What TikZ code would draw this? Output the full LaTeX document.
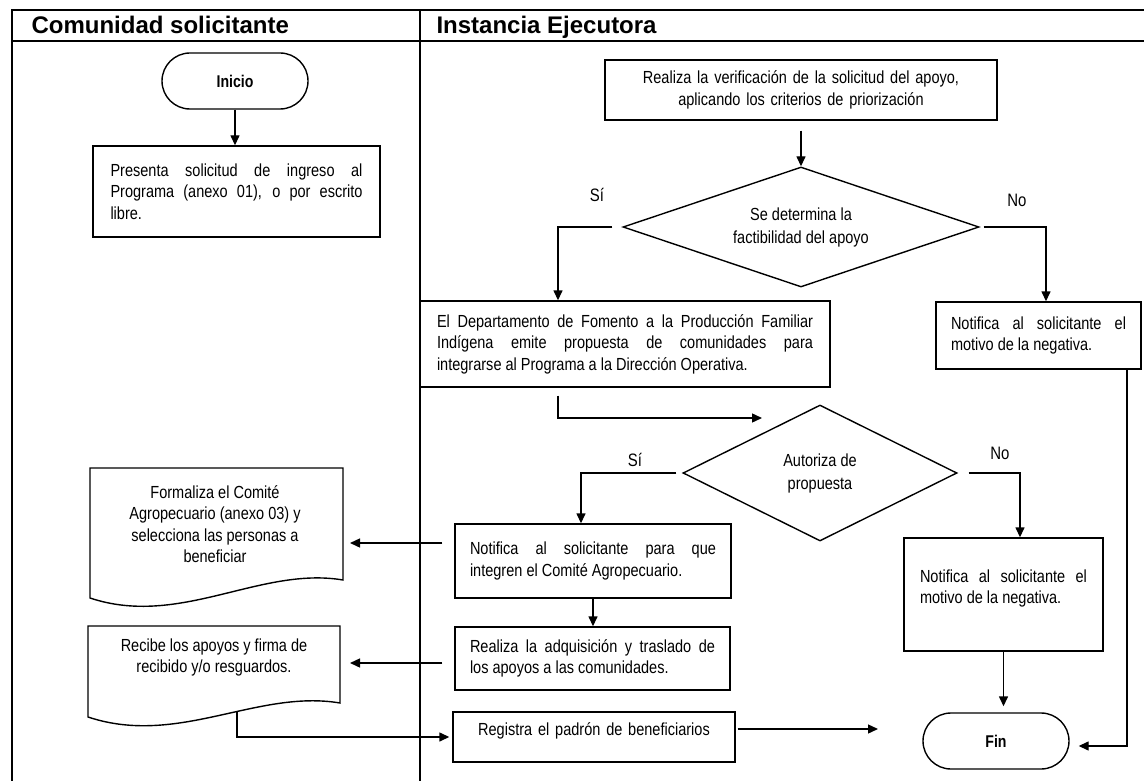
\documentclass[tikz,border=0pt]{standalone}
\usepackage{fontspec}
\setmainfont{Liberation Sans}[FakeStretch=0.83]
\newfontfamily\titlefont{Liberation Sans}
\usepackage{tikz}
\usetikzlibrary{arrows.meta,positioning,shapes.geometric,calc}
\hyphenpenalty=10000
\exhyphenpenalty=10000

\begin{document}
\begin{tikzpicture}[x=1pt, y=-1pt,
    box/.style={draw, line width=1.4pt, inner sep=0pt, font=\fontsize{17.5}{21.5}\selectfont},
    jbox/.style={box, align=justify},
    cbox/.style={box, align=center},
    term/.style={draw, line width=1.4pt, rounded corners=28pt, minimum width=146pt, minimum height=56pt, font=\bfseries\fontsize{17}{20}\selectfont},
    decision/.style={draw, diamond, aspect=3, line width=1.4pt, inner sep=0pt, align=center, font=\fontsize{17.5}{23}\selectfont},
    doc/.style={inner sep=0pt, align=center, font=\fontsize{17.5}{21.5}\selectfont},
    lbl/.style={font=\fontsize{18}{20}\selectfont},
    arr/.style={line width=1.4pt, -{Triangle[length=10pt,width=9pt]}},
    lane/.style={line width=1.6pt},
    lanetitle/.style={anchor=base west, font=\titlefont\bfseries\fontsize{24}{28}\selectfont}]
  \useasboundingbox (0,0) rectangle (1144,781);

  % Swimlanes
  \draw[lane] (12,781) -- (12,10) -- (1144,10);
  \draw[lane] (12,41) -- (1144,41);
  \draw[lane] (420,10) -- (420,781);
  \node[lanetitle] (titlecom) at (28,34) {Comunidad solicitante};
  \node[lanetitle] (titleinst) at (433,34) {Instancia Ejecutora};

  % Left lane - Comunidad solicitante
  \node[term] (inicio) at (235,81) {Inicio};
  \node[jbox, text width=252pt, minimum width=287pt, minimum height=91pt] (presenta) at (236.5,191.5)
    {Presenta solicitud de ingreso al\linebreak Programa (anexo 01), o por escrito\linebreak libre.};

  % Document shapes
  \node[doc] (formaliza) at (215,524)
    {Formaliza el Comité\\ Agropecuario (anexo 03) y\\ selecciona las personas a\\ beneficiar};
  \draw[line width=1.4pt] ($(formaliza)+(-125,-56)$) -- ($(formaliza)+(128,-56)$) -- ($(formaliza)+(128,56)$)
    .. controls ($(formaliza)+(45,42)$) and ($(formaliza)+(-35,104)$) .. ($(formaliza)+(-125,74)$) -- cycle;
  \coordinate (formalizaE) at ($(formaliza)+(135,0)$);

  \node[doc] (recibe) at (214,657.5)
    {Recibe los apoyos y firma de\\ recibido y/o resguardos.};
  \draw[line width=1.4pt] ($(recibe)+(-126,-31.5)$) -- ($(recibe)+(126,-31.5)$) -- ($(recibe)+(126,45.5)$)
    .. controls ($(recibe)+(43,31.5)$) and ($(recibe)+(-36,89.5)$) .. ($(recibe)+(-126,59.5)$) -- cycle;
  \coordinate (recibeE) at ($(recibe)+(136,0)$);
  \coordinate (recibeB) at ($(recibe)+(23,53.5)$);

  % Right lane - Instancia Ejecutora
  \node[cbox, text width=380pt, minimum width=392pt, minimum height=60pt] (realiza) at (801,90)
    {Realiza la verificación de la solicitud del apoyo,\\ aplicando los criterios de priorización};
  \node[decision, minimum width=356pt, minimum height=120pt] (factib) at (801,227)
    {Se determina la\\factibilidad del apoyo};
  \node[lbl] (si1) at (597,195) {Sí};
  \node[lbl] (no1) at (1017,200) {No};

  \node[jbox, text width=376pt, minimum width=410pt, minimum height=86pt] (depto) at (625,344)
    {El Departamento de Fomento a la Producción Familiar\linebreak Indígena emite propuesta de comunidades para\linebreak integrarse al Programa a la Dirección Operativa.};
  \node[jbox, text width=175pt, minimum width=205pt, minimum height=67pt] (negativa1) at (1038.5,335.5)
    {Notifica al solicitante el\linebreak motivo de la negativa.};

  \node[decision, aspect=2, minimum width=274pt, minimum height=136pt] (autoriza) at (820,473)
    {Autoriza de\\propuesta};
  \coordinate (haciaaut) at (762,418);
  \node[lbl] (si2) at (635,460) {Sí};
  \node[lbl] (no2) at (1000,453) {No};

  \node[jbox, text width=246pt, minimum width=276pt, minimum height=74pt] (comite) at (593,561)
    {Notifica al solicitante para que\linebreak integren el Comité Agropecuario.};
  \node[jbox, text width=245pt, minimum width=275pt, minimum height=63pt] (adquis) at (592.5,658.5)
    {Realiza la adquisición y traslado de\linebreak los apoyos a las comunidades.};
  \node[cbox, text width=270pt, minimum width=282pt, minimum height=50pt, text height=12pt, text depth=16pt] (registra) at (594,737)
    {Registra el padrón de beneficiarios};

  \node[jbox, text width=167pt, minimum width=199pt, minimum height=113pt, text height=13pt, text depth=38pt] (negativa2) at (1003.5,594.5)
    {Notifica al solicitante el\linebreak motivo de la negativa.};
  \node[term] (fin) at (996,741) {Fin};
  \coordinate (haciafin) at (878,729);

  % Connectors
  \draw[arr] (inicio.south) -- (inicio.south |- presenta.north);
  \draw[arr, shorten <=10pt] (realiza) -- (factib);
  \draw[arr, shorten <=10pt] (factib.west) -| ([xshift=-67pt]depto.north);
  \draw[arr, shorten <=4pt] (factib.east) -| ([xshift=7.5pt]negativa1.north);
  \draw[arr, shorten <=8pt] ([xshift=-67pt]depto.south) |- (haciaaut);
  \draw[arr, shorten <=6pt] (autoriza.west) -| ([xshift=-12pt]comite.north);
  \draw[arr, shorten <=11pt] (autoriza.east) -| ([xshift=16.5pt]negativa2.north);
  \draw[arr, shorten <=12pt] ([yshift=18pt]comite.west) -- ([yshift=18pt]comite.west -| formalizaE);
  \draw[arr] (comite.south) -- (comite.south |- adquis.north);
  \draw[arr, shorten <=12pt] ([yshift=-4.5pt]adquis.west) -- ([yshift=-4.5pt]adquis.west -| recibeE);
  \draw[arr, shorten >=3pt] (recibeB) |- (registra.west);
  \draw[arr, shorten <=2pt] ([yshift=8pt]registra.east) -- (haciafin);
  \draw[arr, shorten >=6pt] (negativa2.south) -- (negativa2.south |- fin.north);
  \draw[arr, shorten >=9pt] ([xshift=88.5pt]negativa1.south) |- ([yshift=-5pt]fin.east);
\end{tikzpicture}
\end{document}
